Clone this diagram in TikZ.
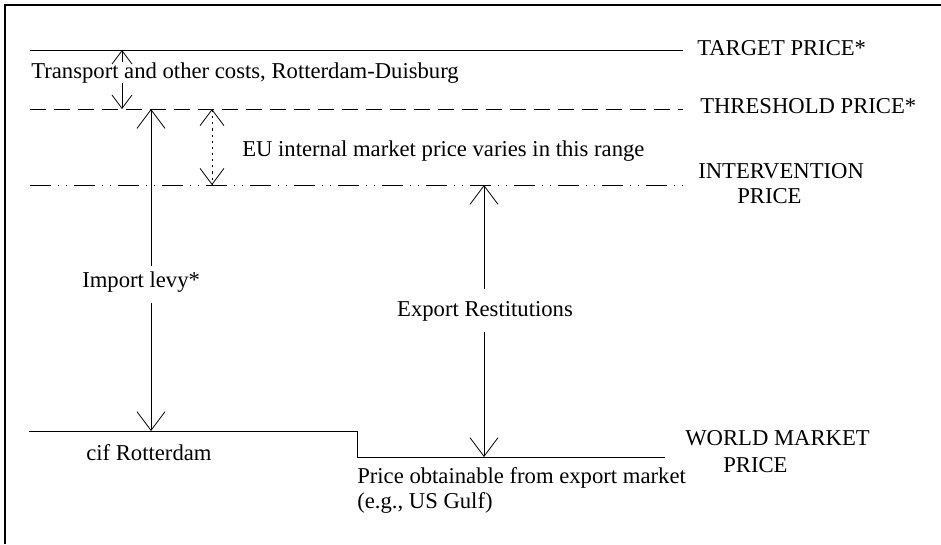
\documentclass[tikz,border=0pt]{standalone}
\usepackage{fontspec}
\setmainfont{Liberation Serif}
\usetikzlibrary{arrows.meta}
\begin{document}
\begin{tikzpicture}[
		x=0.75pt, y=-0.75pt,
		every node/.style={font=\fontsize{17}{20}\selectfont, inner sep=0pt, anchor=base west},
		price line/.style={draw, line width=0.6pt},
		big arrow/.style={draw, line width=0.6pt, -{Straight Barb[length=14pt, width=21pt]}},
		small arrow/.style={draw, line width=0.6pt, -{Straight Barb[length=10pt, width=15pt]}},
		range arrow/.style={draw, line width=0.6pt, dash pattern=on 1.6pt off 3pt, {Straight Barb[length=12pt, width=18pt]}-{Straight Barb[length=12pt, width=18pt]}}
	]
	\useasboundingbox (0,0) rectangle (941,544);
	\draw[line width=0.8pt] (5,544) -- (5,5) -- (941,5);
	% price levels
	\draw[price line] (30,50) -- (683,50);
	\draw[price line, dash pattern=on 12pt off 6pt] (30,109) -- (683,109);
	\draw[price line, dash pattern=on 16pt off 5pt on 1pt off 5pt on 1pt off 5pt] (30,185) -- (683,185);
	\draw[price line] (29,431) -- (357,431) -- (357,457) -- (665,457);
	\node (target) at (697,55) {TARGET PRICE*};
	\node (threshold) at (700,113) {THRESHOLD PRICE*};
	\node (interv) at (698,178) {INTERVENTION};
	\node (intervp) at (737,203) {PRICE};
	\node (world) at (685,445) {WORLD MARKET};
	\node (worldp) at (723,472) {PRICE};
	\node (transport) at (31,78) {Transport and other costs, Rotterdam-Duisburg};
	\node (range) at (242,156) {EU internal market price varies in this range};
	\node (levy) at (82,287) {Import levy*};
	\node[anchor=base] (restit) at (485,316) {Export Restitutions};
	\node (cif) at (86,460) {cif Rotterdam};
	\node (export) at (357,483) {Price obtainable from export market};
	\node (gulf) at (357,508) {(e.g., US Gulf)};
	% gaps between the levels
	\coordinate (t1) at (122,50);
	\coordinate (t2) at (122,109);
	\coordinate (l1) at (151,109);
	\coordinate (l2) at (151,431);
	\coordinate (r1) at (212,109);
	\coordinate (r2) at (212,185);
	\coordinate (e1) at (484,185);
	\coordinate (e2) at (484,457);
	\draw[small arrow] (transport.north -| t1) -- (t1);
	\draw[small arrow] (transport.south -| t2) -- (t2);
	\draw[big arrow] ([yshift=4pt]levy.north -| l1) -- (l1);
	\draw[big arrow] ([yshift=-8pt]levy.south -| l2) -- (l2);
	\draw[range arrow] (r1) -- (r2);
	\draw[big arrow] ([yshift=9pt]restit.north -| e1) -- (e1);
	\draw[big arrow] ([yshift=-8pt]restit.south -| e2) -- (e2);
\end{tikzpicture}
\end{document}
